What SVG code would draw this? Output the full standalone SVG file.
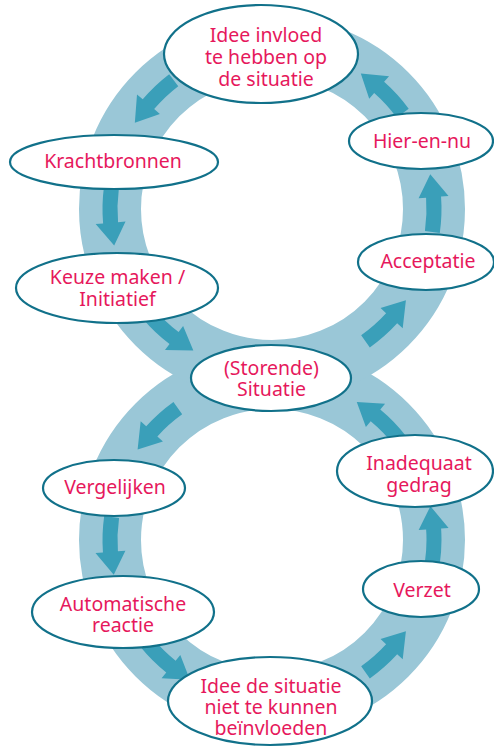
<svg xmlns="http://www.w3.org/2000/svg" xmlns:xlink="http://www.w3.org/1999/xlink" width="494" height="749" viewBox="0 0 494 749">
<style>
.ring{fill:none;stroke:#9ac7d7;stroke-width:62}
.arw{fill:#3a9fb9}
.node ellipse{fill:#fff;stroke:#11718a;stroke-width:2.2}
.node text{font-family:"Noto Sans","Open Sans",sans-serif;font-size:19.5px;fill:#e6185c;text-anchor:middle}
</style>
<defs>
<path id="arw" class="arw" d="M-166.79,-30.16 A169.5,169.5 0 0 0 -169.39,6.21 L-176.88,6.49 L-159.41,28.83 L-146.90,5.39 L-154.40,5.66 A154.5,154.5 0 0 1 -152.03,-27.49 Z"/>
</defs>
<rect width="494" height="749" fill="#fff"/>
<g id="rings">
<circle class="ring" cx="272" cy="540" r="162"/>
<circle class="ring" cx="272" cy="209" r="162"/>
</g>
<g id="connectors">
<use xlink:href="#arw" transform="translate(272,209) rotate(42.4)"/>
<use xlink:href="#arw" transform="translate(272,209) rotate(-2.8)"/>
<use xlink:href="#arw" transform="translate(272,209) rotate(-50.7)"/>
<use xlink:href="#arw" transform="translate(272,209) rotate(-135.5)"/>
<use xlink:href="#arw" transform="translate(272,209) rotate(177.9)"/>
<use xlink:href="#arw" transform="translate(272,209) rotate(133.5)"/>
<use xlink:href="#arw" transform="translate(272,540) rotate(44.2)"/>
<use xlink:href="#arw" transform="translate(272,540) rotate(-2.1)"/>
<use xlink:href="#arw" transform="translate(272,540) rotate(-49.3)"/>
<use xlink:href="#arw" transform="translate(272,540) rotate(-135.5)"/>
<use xlink:href="#arw" transform="translate(272,540) rotate(178.2)"/>
<use xlink:href="#arw" transform="translate(272,540) rotate(131.8)"/>
</g>
<g id="idee-invloed" class="node">
<ellipse cx="261" cy="54" rx="97" ry="49"/>
<text x="266" y="42">Idee invloed</text>
<text x="266" y="64">te hebben op</text>
<text x="266" y="86">de situatie</text>
</g>
<g id="krachtbronnen" class="node">
<ellipse cx="114" cy="162" rx="104" ry="27"/>
<text x="113" y="168">Krachtbronnen</text>
</g>
<g id="keuze" class="node">
<ellipse cx="117" cy="288" rx="101" ry="35"/>
<text x="117.5" y="284">Keuze maken /</text>
<text x="117.5" y="306">Initiatief</text>
</g>
<g id="situatie" class="node">
<ellipse cx="271" cy="378" rx="80" ry="33"/>
<text x="271.5" y="375">(Storende)</text>
<text x="271.5" y="396">Situatie</text>
</g>
<g id="hier-en-nu" class="node">
<ellipse cx="421" cy="141" rx="72" ry="28"/>
<text x="422" y="148">Hier-en-nu</text>
</g>
<g id="acceptatie" class="node">
<ellipse cx="426" cy="262" rx="68" ry="28"/>
<text x="428" y="268">Acceptatie</text>
</g>
<g id="vergelijken" class="node">
<ellipse cx="114" cy="488" rx="71" ry="28"/>
<text x="115" y="494">Vergelijken</text>
</g>
<g id="automatische" class="node">
<ellipse cx="123" cy="612" rx="91" ry="36"/>
<text x="123" y="611">Automatische</text>
<text x="123" y="632">reactie</text>
</g>
<g id="idee-niet" class="node">
<ellipse cx="270" cy="701" rx="102" ry="44"/>
<text x="271" y="693">Idee de situatie</text>
<text x="271" y="714">niet te kunnen</text>
<text x="271" y="735">beïnvloeden</text>
</g>
<g id="verzet" class="node">
<ellipse cx="421" cy="589" rx="58" ry="28"/>
<text x="422" y="597">Verzet</text>
</g>
<g id="inadequaat" class="node">
<ellipse cx="415" cy="471" rx="78" ry="36"/>
<text x="419" y="470">Inadequaat</text>
<text x="419" y="492">gedrag</text>
</g>
</svg>
